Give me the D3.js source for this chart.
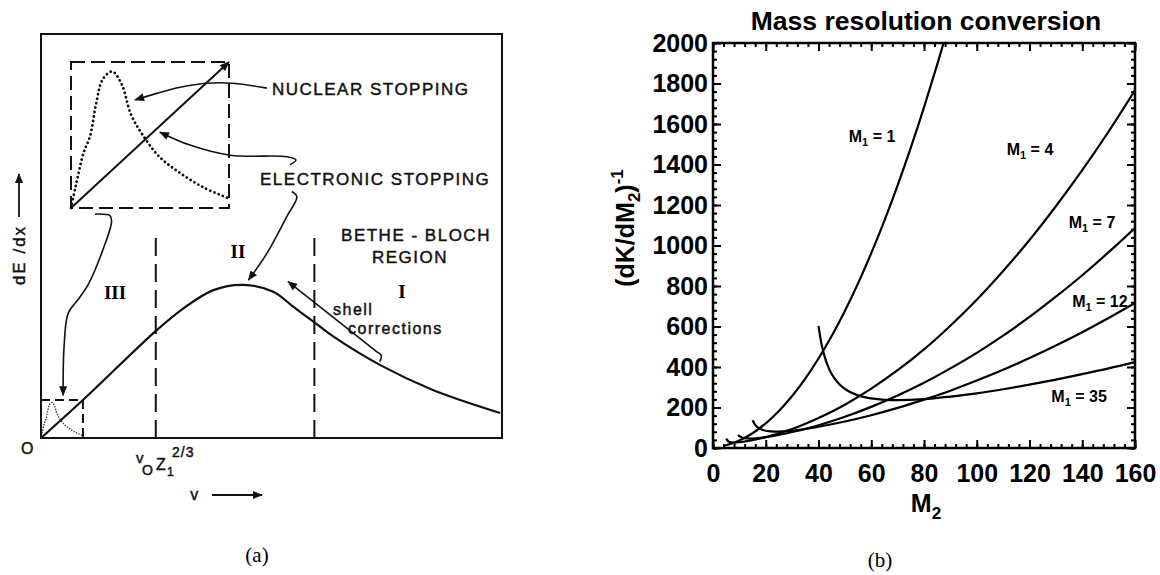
<!DOCTYPE html>
<html>
<head>
<meta charset="utf-8">
<script src="https://cdn.jsdelivr.net/npm/d3@7"></script>
<style>
html, body { margin:0; padding:0; background:#fff; }
svg { display:block; }
.lett { font-family:"Liberation Sans", Arial, sans-serif; fill:#111; stroke:#111; stroke-width:0.45px; font-size:17px; letter-spacing:1.5px; }
.bold { font-family:"Liberation Sans", Arial, sans-serif; font-weight:bold; fill:#000; }
.serif { font-family:"Liberation Serif", "Times New Roman", serif; fill:#000; }
</style>
</head>
<body>
<svg id="fig" width="1160" height="575"></svg>
<script>
// panel (a) - schematic stopping curve, arbitrary units (0..100 on both axes)
var velocity = [0, 9.1, 25.1, 30.9, 37.4, 43.9, 50.4, 54.7, 59.1, 63.3, 73.5, 85, 99.6];
var stopping = [0, 9.4, 26.7, 32.1, 36.6, 37.9, 36.2, 32.5, 28.8, 25.2, 18.1, 11.9, 6.2];
var regionEdges = [24.9, 59.3];
var regionNames = ["III", "II", "I"];
// inset (0..10 units)
var insetV = [0, 0.3, 0.8, 1.2, 1.6, 2.0, 2.6, 3.2, 3.8, 4.6, 5.6, 6.9, 8.4, 10];
var nuclear = [0, 1.5, 3.8, 4.9, 7.2, 8.8, 9.35, 8.5, 6.4, 4.9, 3.5, 2.4, 1.4, 0.66];
var electronicV = [0, 10];
var electronic = [0, 10];

// panel (b) - (dK/dM2)^-1 against M2, one series per M1
var m1Values = [1, 4, 7, 12, 35];
var m2_1 = [4, 5, 10, 15, 20, 25, 30, 35, 40, 45, 50, 55, 60, 65, 70, 75, 80, 85, 88];
var inv_1 = [10, 13.5, 37, 73, 122, 183, 257, 343, 442, 553, 677, 813, 962, 1123, 1297, 1483, 1682, 1893, 2026];
var m2_4 = [5, 6, 8, 10, 12, 15, 20, 25, 30, 40, 50, 60, 70, 80, 90, 100, 110, 120, 130, 140, 150, 160];
var inv_4 = [46, 31, 27, 28.6, 32, 39, 54, 73, 94, 148, 214, 293, 384, 487, 604, 732, 874, 1027, 1194, 1372, 1563, 1767];
var m2_7 = [9.5, 10, 11, 12, 14, 16, 20, 25, 30, 40, 50, 60, 70, 80, 90, 100, 110, 120, 130, 140, 150, 160];
var inv_7 = [64, 58.5, 52, 49, 47, 48, 54, 65, 79, 112, 154, 203, 259, 322, 393, 470, 555, 647, 747, 853, 967, 1087];
var m2_12 = [15, 16, 17, 18, 20, 22, 24, 26, 28, 30, 35, 40, 50, 60, 70, 80, 90, 100, 110, 120, 130, 140, 150, 160];
var inv_12 = [137, 114, 102, 94, 85, 82, 81, 82, 83, 86, 94, 105, 131, 162, 198, 239, 283, 333, 386, 444, 506, 572, 642, 716];
var m2_35 = [40, 41, 42, 44, 46, 48, 50, 55, 60, 65, 70, 80, 90, 100, 110, 120, 130, 140, 150, 160];
var inv_35 = [603, 523, 466, 391, 345, 314, 292, 260, 245, 238, 236, 241, 254, 270, 290, 313, 338, 365, 393, 424];
var m2Ticks = [0, 20, 40, 60, 80, 100, 120, 140, 160];
var invTicks = [0, 200, 400, 600, 800, 1000, 1200, 1400, 1600, 1800, 2000];

function zip(a, b){ return a.map(function(v, i){ return [v, b[i]]; }); }

var svg = d3.select("#fig");
var defs = svg.append("defs");
defs.append("marker").attr("id","head").attr("viewBox","0 0 10 8").attr("refX",9).attr("refY",4)
  .attr("markerWidth",11).attr("markerHeight",8).attr("markerUnits","userSpaceOnUse").attr("orient","auto")
  .append("path").attr("d","M0,0 L10,4 L0,8 Z").attr("fill","#111");

/* ---------------- (a) ---------------- */
var xA = d3.scaleLinear().domain([0,100]).range([41,502]);
var yA = d3.scaleLinear().domain([0,100]).range([438,34]);
var xI = d3.scaleLinear().domain([0,10]).range([71,229]);   // big inset
var yI = d3.scaleLinear().domain([0,10]).range([208,62]);
var xS = d3.scaleLinear().domain([0,10]).range([xA(0), xA(9.1)]);   // small box at origin
var yS = d3.scaleLinear().domain([0,10]).range([yA(0), yA(9.4)]);

var gA = svg.append("g");
gA.append("rect").attr("x",xA(0)).attr("y",yA(100)).attr("width",xA(100)-xA(0)).attr("height",yA(0)-yA(100))
  .attr("fill","none").attr("stroke","#111").attr("stroke-width",2);

regionEdges.forEach(function(v){
  gA.append("line").attr("x1",xA(v)).attr("x2",xA(v)).attr("y1",yA(0)).attr("y2",yA(49.8))
    .attr("stroke","#111").attr("stroke-width",2).attr("stroke-dasharray","18,8");
});

var lineA = d3.line().x(function(d){return xA(d[0]);}).y(function(d){return yA(d[1]);}).curve(d3.curveCatmullRom.alpha(0.5));
gA.append("path").attr("d", lineA(zip(velocity, stopping))).attr("fill","none").attr("stroke","#111").attr("stroke-width",2.2);

// big inset
gA.append("rect").attr("x",xI(0)).attr("y",yI(10)).attr("width",xI(10)-xI(0)).attr("height",yI(0)-yI(10))
  .attr("fill","none").attr("stroke","#111").attr("stroke-width",2).attr("stroke-dasharray","14,6");
var lineI = d3.line().x(function(d){return xI(d[0]);}).y(function(d){return yI(d[1]);}).curve(d3.curveCatmullRom.alpha(0.5));
gA.append("path").attr("d", lineI(zip(insetV, nuclear))).attr("fill","none").attr("stroke","#111")
  .attr("stroke-width",2.8).attr("stroke-linecap","round").attr("stroke-dasharray","0.1,4.4");
gA.append("path").attr("d", d3.line().x(function(d){return xI(d[0]);}).y(function(d){return yI(d[1]);})(zip(electronicV, electronic)))
  .attr("stroke","#111").attr("stroke-width",2).attr("marker-end","url(#head)");

// small box at origin
gA.append("path").attr("d","M"+xS(0)+","+yS(10)+"H"+xS(10)+"V"+yS(0)).attr("fill","none")
  .attr("stroke","#111").attr("stroke-width",2).attr("stroke-dasharray","9,5");
var lineS = d3.line().x(function(d){return xS(d[0]);}).y(function(d){return yS(d[1]);}).curve(d3.curveCatmullRom.alpha(0.5));
gA.append("path").attr("d", lineS(zip(insetV, nuclear))).attr("fill","none").attr("stroke","#333")
  .attr("stroke-width",1.5).attr("stroke-linecap","round").attr("stroke-dasharray","0.1,2.6");

// annotation arrows (points in panel units)
var arrows = [
  [[49,86.6],[41.6,87.8],[35.9,87.8],[30.2,86.8],[25.1,85.3],[20.4,83.7]],
  [[54,67.6],[55.3,68.8],[53.4,69.6],[41,70],[32.3,72.5],[25.8,75.7]],
  [[54.4,61],[55.5,59.7],[53.3,54.8],[49,45.7],[45,39.1]],
  [[11.7,55.4],[15,55],[15.3,53.5],[13.4,46.5],[10.2,37.9],[8,34.2],[5.9,30.9],[5,22.5],[4.8,10.6]],
  [[73.5,18.9],[73.8,20.5],[72.8,21.4],[53.6,38.7]]
];
arrows.forEach(function(a){
  gA.append("path").attr("d", lineA(a)).attr("fill","none").attr("stroke","#111").attr("stroke-width",1.6).attr("marker-end","url(#head)");
});

gA.append("text").attr("class","lett").attr("x",272).attr("y",95).text("NUCLEAR STOPPING");
gA.append("text").attr("class","lett").attr("x",260).attr("y",185).text("ELECTRONIC STOPPING");
gA.append("text").attr("class","lett").attr("x",416).attr("y",241).attr("text-anchor","middle").text("BETHE - BLOCH");
gA.append("text").attr("class","lett").attr("x",410).attr("y",263).attr("text-anchor","middle").text("REGION");
gA.append("text").attr("class","lett").attr("x",333).attr("y",315).style("font-size","16px").text("shell");
gA.append("text").attr("class","lett").attr("x",348).attr("y",334).style("font-size","16px").text("corrections");

var romanAt = [[115,299],[238,258],[402,298]];
regionNames.forEach(function(r, i){
  gA.append("text").attr("class","serif").attr("x",romanAt[i][0]).attr("y",romanAt[i][1]).attr("text-anchor","middle")
    .style("font-size","19px").style("font-weight","bold").text(r);
});

gA.append("text").attr("class","lett").attr("transform","translate(25,255) rotate(-90)").attr("text-anchor","middle")
  .style("letter-spacing","2px").text("dE /dx");
gA.append("line").attr("x1",19).attr("x2",19).attr("y1",217).attr("y2",174).attr("stroke","#111").attr("stroke-width",1.8).attr("marker-end","url(#head)");
gA.append("text").attr("class","lett").attr("x",28).attr("y",454).attr("text-anchor","middle").style("font-size","16px").text("O");
gA.append("text").attr("class","lett").attr("x",136).attr("y",463).style("font-size","15px").text("v");
gA.append("text").attr("class","lett").attr("x",142).attr("y",475).style("font-size","14px").text("O");
gA.append("text").attr("class","lett").attr("x",156).attr("y",470).style("font-size","16px").text("Z");
gA.append("text").attr("class","lett").attr("x",167).attr("y",476).style("font-size","12px").text("1");
gA.append("text").attr("class","lett").attr("x",172).attr("y",457).style("font-size","14px").style("letter-spacing","1px").text("2/3");
gA.append("text").attr("class","lett").attr("x",195).attr("y",500).attr("text-anchor","middle").style("font-size","16px").text("v");
gA.append("line").attr("x1",212).attr("x2",262).attr("y1",495).attr("y2",495).attr("stroke","#111").attr("stroke-width",1.8).attr("marker-end","url(#head)");
gA.append("text").attr("class","serif").attr("x",257).attr("y",562).attr("text-anchor","middle").style("font-size","21px").text("(a)");

/* ---------------- (b) ---------------- */
var xB = d3.scaleLinear().domain([0,160]).range([713,1135]);
var yB = d3.scaleLinear().domain([0,2000]).range([448,43]);
var gB = svg.append("g");

function styleAxis(g){
  g.select(".domain").remove();
  g.selectAll(".tick line").attr("stroke","#000").attr("stroke-width",2);
  g.selectAll("text").attr("class","bold").style("font-size","25px").attr("fill","#000");
}
gB.append("g").attr("transform","translate(0,"+yB(0)+")")
  .call(d3.axisBottom(xB).tickValues(d3.range(0,161,4)).tickSizeInner(-4).tickSizeOuter(0).tickFormat("")).call(styleAxis);
gB.append("g").attr("transform","translate(0,"+yB(0)+")")
  .call(d3.axisBottom(xB).tickValues(m2Ticks).tickSizeInner(-8).tickSizeOuter(0).tickPadding(16).tickFormat(d3.format("d"))).call(styleAxis);
gB.append("g").attr("transform","translate(0,"+yB(2000)+")")
  .call(d3.axisTop(xB).tickValues(d3.range(0,161,4)).tickSizeInner(-4).tickSizeOuter(0).tickFormat("")).call(styleAxis);
gB.append("g").attr("transform","translate(0,"+yB(2000)+")")
  .call(d3.axisTop(xB).tickValues(m2Ticks).tickSizeInner(-8).tickSizeOuter(0).tickFormat("")).call(styleAxis);
gB.append("g").attr("transform","translate("+xB(0)+",0)")
  .call(d3.axisLeft(yB).tickValues(d3.range(0,2001,40)).tickSizeInner(-4).tickSizeOuter(0).tickFormat("")).call(styleAxis);
gB.append("g").attr("transform","translate("+xB(0)+",0)")
  .call(d3.axisLeft(yB).tickValues(invTicks).tickSizeInner(-8).tickSizeOuter(0).tickPadding(5).tickFormat(d3.format("d"))).call(styleAxis);
gB.append("g").attr("transform","translate("+xB(160)+",0)")
  .call(d3.axisRight(yB).tickValues(d3.range(0,2001,40)).tickSizeInner(-4).tickSizeOuter(0).tickFormat("")).call(styleAxis);
gB.append("g").attr("transform","translate("+xB(160)+",0)")
  .call(d3.axisRight(yB).tickValues(invTicks).tickSizeInner(-8).tickSizeOuter(0).tickFormat("")).call(styleAxis);

gB.append("rect").attr("x",xB(0)).attr("y",yB(2000)).attr("width",xB(160)-xB(0)).attr("height",yB(0)-yB(2000))
  .attr("fill","none").attr("stroke","#000").attr("stroke-width",2.5);

defs.append("clipPath").attr("id","clipB").append("rect")
  .attr("x",xB(0)).attr("y",yB(2000)).attr("width",xB(160)-xB(0)).attr("height",yB(0)-yB(2000));

var series = [zip(m2_1, inv_1), zip(m2_4, inv_4), zip(m2_7, inv_7), zip(m2_12, inv_12), zip(m2_35, inv_35)];
var lineB = d3.line().x(function(d){return xB(d[0]);}).y(function(d){return yB(d[1]);}).curve(d3.curveMonotoneX);
gB.append("g").attr("clip-path","url(#clipB)").selectAll("path").data(series).enter().append("path")
  .attr("d", lineB).attr("fill","none").attr("stroke","#000").attr("stroke-width",2.2);

// curve labels, placed in data units
var labelAt = [[60.3,1511],[120.2,1447],[143.7,1086],[146.7,696],[138.8,227]];
m1Values.forEach(function(m, i){
  var t = gB.append("text").attr("class","bold").style("font-size","16px").attr("text-anchor","middle")
    .attr("x", xB(labelAt[i][0])).attr("y", yB(labelAt[i][1]));
  t.append("tspan").text("M");
  t.append("tspan").attr("dy",4).style("font-size","11px").text("1");
  t.append("tspan").attr("dy",-4).text(" = " + m);
});

gB.append("text").attr("class","bold").attr("x",926).attr("y",30).attr("text-anchor","middle")
  .style("font-size","26.5px").text("Mass resolution conversion");

var yl = gB.append("text").attr("class","bold").attr("transform","translate(634,228) rotate(-90)")
  .attr("text-anchor","middle").style("font-size","25px");
yl.append("tspan").text("(dK/dM");
yl.append("tspan").attr("dy",6).style("font-size","17px").text("2");
yl.append("tspan").attr("dy",-6).text(")");
yl.append("tspan").attr("dy",-11).style("font-size","17px").text("-1");

var xl = gB.append("text").attr("class","bold").attr("x",926).attr("y",512).attr("text-anchor","middle").style("font-size","25px");
xl.append("tspan").text("M");
xl.append("tspan").attr("dy",7).style("font-size","17px").text("2");

gB.append("text").attr("class","serif").attr("x",880).attr("y",567).attr("text-anchor","middle").style("font-size","21px").text("(b)");
</script>
</body>
</html>
